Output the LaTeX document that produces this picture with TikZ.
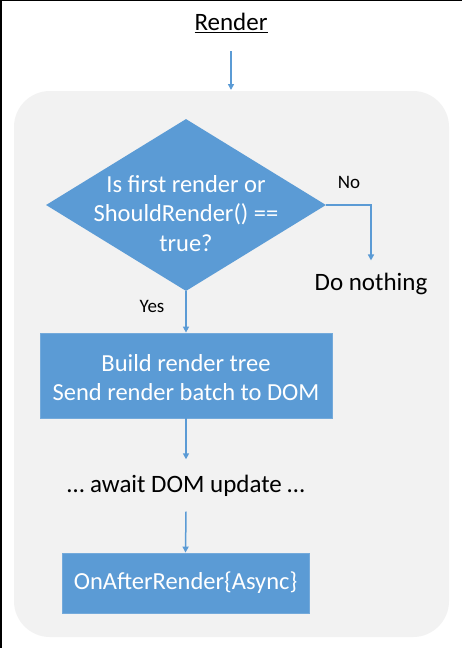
\documentclass[tikz,border=0pt]{standalone}
\usepackage{fontspec}
\setmainfont{Carlito}
\usetikzlibrary{shapes.geometric,arrows.meta}
\definecolor{flowblue}{HTML}{5B9BD5}
\definecolor{panelgray}{HTML}{F2F2F2}
\tikzset{
  conn/.style={draw=flowblue, line width=1.5pt, -{Triangle[length=6pt,width=6pt]}},
  bluebox/.style={rectangle, fill=flowblue, draw=flowblue!85!white, line width=0.8pt, text=white, font=\fontsize{24.5}{29.5}\selectfont, align=center, inner sep=0pt},
  whitetext/.style={text=white, font=\fontsize{24.5}{29.2}\selectfont, align=center, inner sep=0pt},
  plaintext/.style={font=\fontsize{25}{30}\selectfont, text=black, inner sep=0pt},
  smalllabel/.style={font=\fontsize{19}{22}\selectfont, text=black, inner sep=0pt}
}
\begin{document}
\begin{tikzpicture}[x=1pt,y=-1pt]
\useasboundingbox (0,0) rectangle (462,648);
\fill[white] (0,0) rectangle (462,648);
% frame lines (top and left)
\draw[black, line width=1.5pt] (0,0.5) -- (462,0.5);
\draw[black, line width=2.5pt] (1,0) -- (1,648);
% gray panel
\fill[panelgray, rounded corners=36pt] (14,91) rectangle (449,637);
% title
\node[plaintext, minimum height=56pt] (title) at (231,23) {\underline{Render}};
\coordinate (panelTop) at (231,90);
% diamond
\node[diamond, fill=flowblue, minimum width=280pt, minimum height=172pt, inner sep=0pt, aspect=1.63] (dec) at (186,205) {};
\node[whitetext] (dectext) at (186,213.5) {Is first render or\\ShouldRender() ==\\true?};
% no branch
\node[smalllabel] (nolabel) at (349,182) {No};
\coordinate (nocorner) at (371,205);
\node[plaintext, inner ysep=12.5pt] (nothing) at (371,284) {Do nothing};
% yes branch
\node[smalllabel] (yeslabel) at (152,306) {Yes};
% box 1
\node[bluebox, minimum width=292pt, minimum height=85pt] (build) at (186,375.5) {};
\node[whitetext] (buildtext) at (186,377.5) {Build render tree\\Send render batch to DOM};
% await
\node[plaintext, minimum height=52pt] (await) at (186,485.5) {\ldots\ await DOM update \ldots};
% box 2
\node[bluebox, minimum width=247pt, minimum height=60pt] (after) at (185.5,583) {OnAfterRender\{Async\}};
% connectors
\draw[conn] (title.south) -- (panelTop);
\draw[conn] (dec.east) -- (nocorner) -- (nothing.north);
\draw[conn] (dec.south) -- (build.north);
\draw[conn] (build.south) -- (await.north);
\draw[conn] (await.south) -- (after.north);
\end{tikzpicture}
\end{document}
